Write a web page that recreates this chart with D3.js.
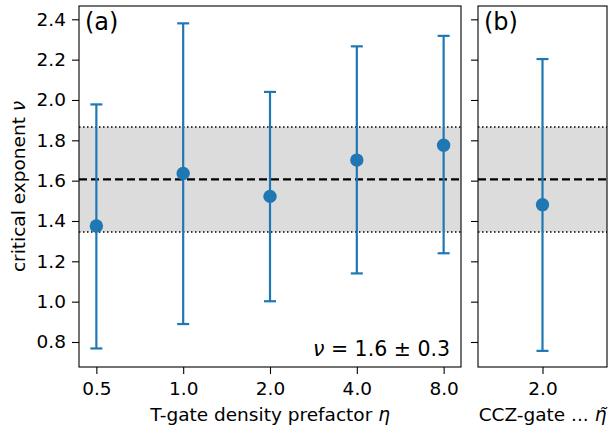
<!DOCTYPE html>
<html><head><meta charset="utf-8">
<script src="https://cdn.jsdelivr.net/npm/d3@7"></script>
<style>body{margin:0;background:#fff}svg{display:block}text{font-family:"DejaVu Sans",sans-serif;fill:#000}</style>
</head><body><svg id="c" width="608" height="433"></svg>
<script>
const categoriesA = ["0.5", "1.0", "2.0", "4.0", "8.0"];
const meanA  = [1.375, 1.636, 1.522, 1.702, 1.776];
const lowA   = [0.768, 0.889, 1.002, 1.140, 1.240];
const highA  = [1.978, 2.380, 2.040, 2.266, 2.318];
const categoriesB = ["2.0"];
const meanB  = [1.481];
const lowB   = [0.756];
const highB  = [2.203];
const nuMean = 1.606, nuLow = 1.346, nuHigh = 1.866;
const yTicks = [0.8, 1.0, 1.2, 1.4, 1.6, 1.8, 2.0, 2.2, 2.4];

const svg = d3.select("#c");
const plotTop = 6, plotBottom = 367;
const y = d3.scaleLinear().domain([0.676, 2.466]).range([plotBottom, plotTop]);
const blue = "#1f77b4";
const fs = 18.5;

function panel(x0, x1, cats, mean, low, high, label, showYLabels, xlab) {
  const n = cats.length;
  const x = d3.scaleLinear().domain(n > 1 ? [-0.2, n - 1 + 0.2] : [-0.5, 0.5]).range([x0, x1]);
  const g = svg.append("g");
  g.append("rect").attr("x", x0).attr("width", x1 - x0)
    .attr("y", y(nuHigh)).attr("height", y(nuLow) - y(nuHigh)).attr("fill", "#dcdcdc");
  [nuLow, nuHigh].forEach(v => g.append("line").attr("x1", x0).attr("x2", x1)
    .attr("y1", y(v)).attr("y2", y(v)).attr("stroke", "#000").attr("stroke-width", 1.5)
    .attr("stroke-dasharray", "1.5,2.5"));
  g.append("line").attr("x1", x0).attr("x2", x1).attr("y1", y(nuMean)).attr("y2", y(nuMean))
    .attr("stroke", "#000").attr("stroke-width", 2.2).attr("stroke-dasharray", "8,4");
  cats.forEach((c, i) => {
    const cx = x(i);
    g.append("line").attr("x1", cx).attr("x2", cx).attr("y1", y(low[i])).attr("y2", y(high[i]))
      .attr("stroke", blue).attr("stroke-width", 2.2);
    [low[i], high[i]].forEach(v => g.append("line").attr("x1", cx - 6).attr("x2", cx + 6)
      .attr("y1", y(v)).attr("y2", y(v)).attr("stroke", blue).attr("stroke-width", 2.2));
    g.append("circle").attr("cx", cx).attr("cy", y(mean[i])).attr("r", 6.7).attr("fill", blue);
  });
  g.append("rect").attr("x", x0).attr("y", plotTop).attr("width", x1 - x0).attr("height", plotBottom - plotTop)
    .attr("fill", "none").attr("stroke", "#000").attr("stroke-width", 1.1);
  const ya = d3.axisLeft(y).tickValues(yTicks).tickSize(7).tickPadding(6)
    .tickFormat(showYLabels ? d3.format(".1f") : () => "");
  const yg = svg.append("g").attr("transform", `translate(${x0},0)`).call(ya);
  yg.select(".domain").remove();
  yg.selectAll("line").attr("stroke", "#000").attr("stroke-width", 1.1);
  yg.selectAll("text").attr("font-size", fs).attr("font-family", "DejaVu Sans").attr("fill", "#000");
  const xa = d3.axisBottom(x).tickValues(d3.range(n)).tickFormat(i => cats[i]).tickSize(7).tickPadding(8);
  const xg = svg.append("g").attr("transform", `translate(0,${plotBottom})`).call(xa);
  xg.select(".domain").remove();
  xg.selectAll("line").attr("stroke", "#000").attr("stroke-width", 1.1);
  xg.selectAll("text").attr("font-size", fs).attr("font-family", "DejaVu Sans").attr("fill", "#000");
  svg.append("text").attr("x", x0 + 6).attr("y", plotTop + 24).attr("font-size", 24).text(label);
  const t = svg.append("text").attr("x", (x0 + x1) / 2).attr("y", 421).attr("text-anchor", "middle")
    .attr("font-size", fs);
  xlab(t);
  return x;
}

panel(79, 461, categoriesA, meanA, lowA, highA, "(a)", true, t => {
  t.append("tspan").text("T-gate density prefactor ");
  t.append("tspan").attr("font-style", "italic").text("η");
});
panel(478, 607, categoriesB, meanB, lowB, highB, "(b)", false, t => {
  t.append("tspan").text("CCZ-gate ... ");
  t.append("tspan").attr("font-style", "italic").text("η\u0303");
});

svg.append("text").attr("transform", `translate(25,186.5) rotate(-90)`).attr("text-anchor", "middle")
  .attr("font-size", fs).call(t => {
    t.append("tspan").text("critical exponent ");
    t.append("tspan").attr("font-style", "italic").text("ν");
  });

svg.append("text").attr("x", 450).attr("y", 356).attr("text-anchor", "end").attr("font-size", 20.5)
  .call(t => {
    t.append("tspan").attr("font-style", "italic").text("ν");
    t.append("tspan").text(" = 1.6 ± 0.3");
  });
</script></body></html>
